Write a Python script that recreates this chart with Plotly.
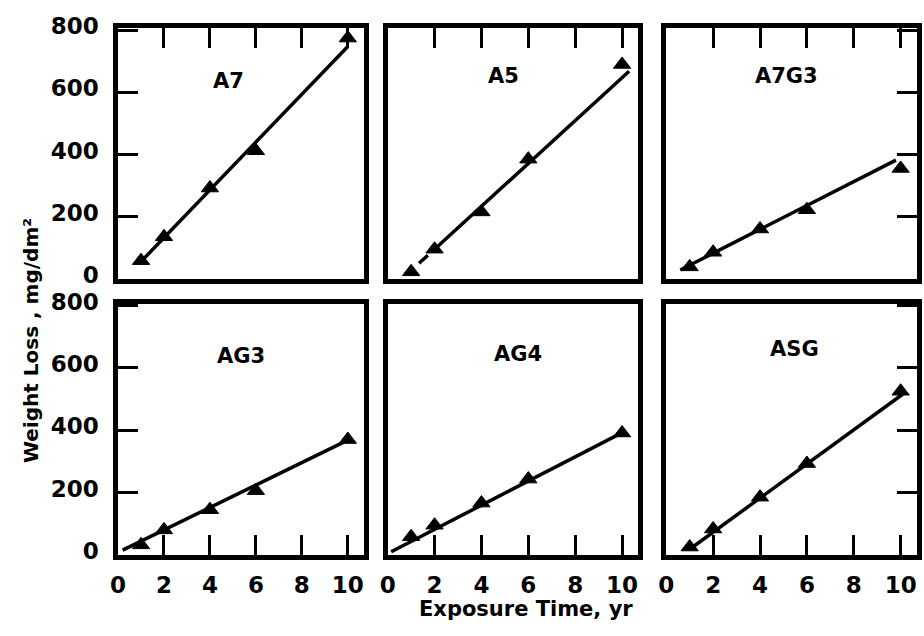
import plotly.graph_objects as go

# Exposure times (yr) at which each alloy was weighed
years = [1, 2, 4, 6, 10]

alloys = ["A7", "A5", "A7G3", "AG3", "AG4", "ASG"]

# Weight loss, mg/dm2
loss_a7 = [58, 135, 292, 412, 775]
loss_a5 = [22, 95, 215, 385, 690]
loss_a7g3 = [38, 85, 160, 222, 355]
loss_ag3 = [32, 80, 145, 206, 370]
loss_ag4 = [58, 95, 166, 243, 391]
loss_asg = [25, 83, 185, 293, 525]

# Straight-line fits drawn through each data set (start / end points)
trend_x0 = [1.0, 2.0, 0.6, 0.2, 0.15, 1.0]
trend_y0 = [55, 95, 28, 15, 10, 18]
trend_x1 = [10.0, 10.3, 9.8, 10.0, 9.9, 10.1]
trend_y1 = [748, 668, 382, 368, 388, 516]

# A5: extrapolated (dashed) part of the fit toward the first point
a5_dash_x = [2.0, 0.75]
a5_dash_y = [95, 9]

x_ticks = [0, 2, 4, 6, 8, 10]
y_ticks = [0, 200, 400, 600, 800]

series = [loss_a7, loss_a5, loss_a7g3, loss_ag3, loss_ag4, loss_asg]

W, H = 924, 636
cols_px = [(111, 359), (383, 636), (664, 917)]
rows_px = [(14, 274), (300, 561)]
label_pos = [(0.45, 0.79), (0.46, 0.81), (0.48, 0.81),
             (0.50, 0.79), (0.52, 0.80), (0.51, 0.82)]

FONT = "DejaVu Sans"
tick_font = dict(family=FONT, size=23, color="black", weight="bold")

fig = go.Figure()
layout = dict(
    width=W, height=H,
    margin=dict(l=0, r=0, t=0, b=0),
    paper_bgcolor="white", plot_bgcolor="white",
    showlegend=False,
    annotations=[],
)

for i, name in enumerate(alloys):
    row, col = divmod(i, 3)
    n = "" if i == 0 else str(i + 1)
    xa, ya = "x" + n, "y" + n
    l, r = cols_px[col]
    t, b = rows_px[row]

    layout["xaxis" + n] = dict(
        domain=[l / W, r / W], range=[0, 10.7], anchor=ya,
        tickvals=x_ticks, ticktext=[str(v) for v in x_ticks],
        ticks="inside", ticklen=20, tickwidth=3, tickcolor="black",
        side="top" if row == 0 else "bottom",
        showticklabels=(row == 1), tickfont=tick_font,
        ticklabelstandoff=6,
        showline=True, mirror=True, linewidth=4.5, linecolor="black",
        showgrid=False, zeroline=False, fixedrange=True,
    )
    layout["yaxis" + n] = dict(
        domain=[1 - b / H, 1 - t / H], range=[0, 806], anchor=xa,
        tickvals=y_ticks, ticktext=[str(v) for v in y_ticks],
        ticks="" if col == 1 else "inside", ticklen=20, tickwidth=3,
        tickcolor="black", side="right" if col == 2 else "left",
        showticklabels=(col == 0), tickfont=tick_font,
        ticklabelstandoff=10, ticklabelshift=-4,
        showline=True, mirror=True, linewidth=4.5, linecolor="black",
        showgrid=False, zeroline=False, fixedrange=True,
    )

    fig.add_trace(go.Scatter(
        x=[trend_x0[i], trend_x1[i]], y=[trend_y0[i], trend_y1[i]],
        mode="lines", line=dict(color="black", width=3.5),
        xaxis=xa, yaxis=ya, hoverinfo="skip",
    ))
    if name == "A5":
        fig.add_trace(go.Scatter(
            x=a5_dash_x, y=a5_dash_y, mode="lines",
            line=dict(color="black", width=3.5, dash="0px,9px,12px,40px"),
            xaxis=xa, yaxis=ya, hoverinfo="skip",
        ))
    fig.add_trace(go.Scatter(
        x=years, y=series[i], mode="markers", name=name,
        marker=dict(symbol="triangle-up", size=15, color="black",
                    line=dict(color="black", width=1)),
        xaxis=xa, yaxis=ya, cliponaxis=False,
    ))

    lx, ly = label_pos[i]
    layout["annotations"].append(dict(
        text=name, xref=xa + " domain", yref=ya + " domain",
        x=lx, y=ly, showarrow=False, xanchor="center", yanchor="middle",
        font=dict(family=FONT, size=21, color="black", weight="bold"),
    ))

layout["annotations"].append(dict(
    text="Weight Loss , mg/dm²", xref="paper", yref="paper",
    x=23 / W, y=1 - 338 / H, textangle=-90, showarrow=False,
    xanchor="center", yanchor="middle",
    font=dict(family=FONT, size=20, color="black", weight="bold"),
))
layout["annotations"].append(dict(
    text="Exposure Time, yr", xref="paper", yref="paper",
    x=523 / W, y=0, showarrow=False,
    xanchor="center", yanchor="bottom", yshift=4,
    font=dict(family=FONT, size=21, color="black", weight="bold"),
))

fig.update_layout(**layout)
fig.write_html("out.html")
